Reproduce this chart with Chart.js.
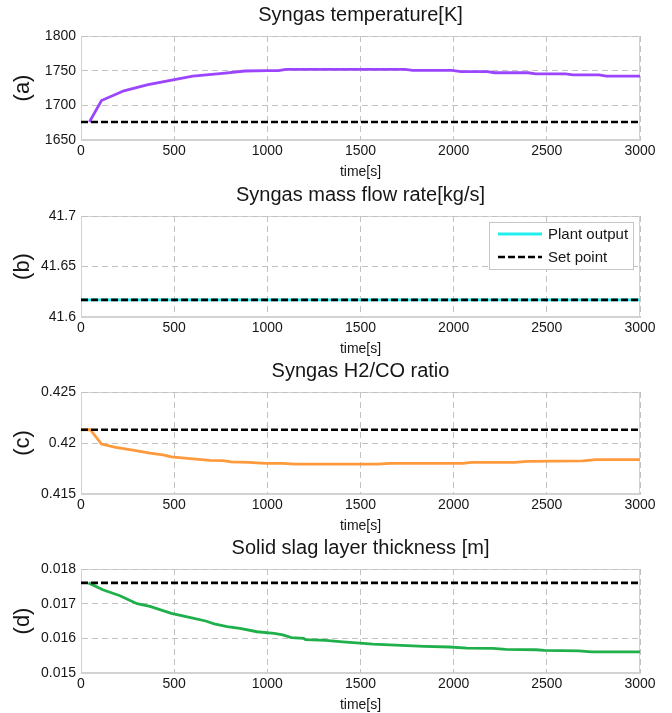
<!DOCTYPE html>
<html>
<head>
<meta charset="utf-8">
<script src="https://cdn.jsdelivr.net/npm/chart.js@4/dist/chart.umd.min.js"></script>
<style>
  html, body { margin: 0; padding: 0; background: #fff; }
  #wrap { position: relative; width: 672px; height: 713px; overflow: hidden; background: #fff; }
  .panel { position: absolute; left: 0; width: 672px; }
  canvas { display: block; }
</style>
</head>
<body>
<div id="wrap">
  <div class="panel" style="top:0px"><canvas id="panelA" width="672" height="180"></canvas></div>
  <div class="panel" style="top:180px"><canvas id="panelB" width="672" height="177"></canvas></div>
  <div class="panel" style="top:356px"><canvas id="panelC" width="672" height="178"></canvas></div>
  <div class="panel" style="top:533px"><canvas id="panelD" width="672" height="180"></canvas></div>
</div>
<script>
// ---- shared time axis ----
const timeTicks = [0, 500, 1000, 1500, 2000, 2500, 3000];
const timeTickLabels = ['0', '500', '1000', '1500', '2000', '2500', '3000'];

// ---- (a) syngas temperature [K] ----
const tempTime  = [45, 110, 230, 360, 480, 600, 760, 880, 1000, 1060, 1100, 1740, 1780, 1990, 2040, 2180, 2220, 2400, 2440, 2600, 2640, 2780, 2820, 3000];
const tempValue = [1676, 1707, 1721, 1730, 1736, 1742, 1746, 1749.5, 1750, 1750, 1752, 1752, 1750.5, 1750.5, 1748.5, 1748.5, 1747, 1747, 1745.5, 1745.5, 1744, 1744, 1742, 1742];
const tempSetPoint = 1676;
const tempTicks = [1650, 1700, 1750, 1800];
const tempTickLabels = ['1650', '1700', '1750', '1800'];

// ---- (b) syngas mass flow rate [kg/s] ----
const flowTime  = [0, 3000];
const flowValue = [41.617, 41.617];
const flowSetPoint = 41.617;
const flowTicks = [41.6, 41.65, 41.7];
const flowTickLabels = ['41.6', '41.65', '41.7'];

// ---- (c) syngas H2/CO ratio ----
const ratioTime  = [0, 50, 110, 186, 278, 370, 440, 485, 600, 692, 761, 807, 900, 990, 1083, 1150, 1590, 1660, 2050, 2096, 2326, 2395, 2694, 2763, 3000];
const ratioValue = [0.4213, 0.4213, 0.4199, 0.41958, 0.4193, 0.4190, 0.41883, 0.41863, 0.41844, 0.4183, 0.41827, 0.41814, 0.4181, 0.41801, 0.418, 0.41792, 0.41792, 0.418, 0.418, 0.4181, 0.4181, 0.4182, 0.41824, 0.41837, 0.41837];
const ratioSetPoint = 0.4213;
const ratioTicks = [0.415, 0.42, 0.425];
const ratioTickLabels = ['0.415', '0.42', '0.425'];

// ---- (d) solid slag layer thickness [m] ----
const slagTime  = [40, 117, 209, 255, 301, 370, 485, 600, 669, 715, 784, 853, 945, 1037, 1083, 1129, 1195, 1205, 1313, 1405, 1497, 1566, 1658, 1750, 1842, 1980, 2072, 2211, 2280, 2441, 2487, 2671, 2740, 3000];
const slagValue = [0.0176, 0.0174, 0.01723, 0.01711, 0.01700, 0.01692, 0.01672, 0.01658, 0.0165, 0.01642, 0.01634, 0.01629, 0.01619, 0.01614, 0.0161, 0.01602, 0.016, 0.01596, 0.01594, 0.0159, 0.01586, 0.01583, 0.01581, 0.01579, 0.01577, 0.01575, 0.01572, 0.01571, 0.01568, 0.01567, 0.01565, 0.01564, 0.01561, 0.01561];
const slagSetPoint = 0.0176;
const slagTicks = [0.015, 0.016, 0.017, 0.018];
const slagTickLabels = ['0.015', '0.016', '0.017', '0.018'];

const FONT = "'Liberation Sans', Arial, Helvetica, sans-serif";
const TEXT = '#161616';
const GRID = '#c2c2c2';
const FRAME = '#d2d2d2';

const toPoints = (xs, ys) => xs.map((x, i) => ({ x: x, y: ys[i] }));
const flat = (v) => [{ x: timeTicks[0], y: v }, { x: timeTicks[timeTicks.length - 1], y: v }];

// light box around each plotting area, painted under the grid
const axesBox = {
  id: 'axesBox',
  beforeDraw(chart) {
    const { ctx, chartArea: a } = chart;
    ctx.save();
    ctx.strokeStyle = FRAME;
    ctx.lineWidth = 1;
    ctx.setLineDash([]);
    ctx.strokeRect(Math.round(a.left) + 0.5, Math.round(a.top) + 0.5,
                   Math.round(a.right - a.left) - 1, Math.round(a.bottom - a.top) - 1);
    ctx.restore();
  }
};

// legend box drawn inside the upper-right corner of the plotting area
const insideLegend = {
  id: 'insideLegend',
  afterDatasetsDraw(chart, args, opts) {
    if (!opts || !opts.show) return;
    const { ctx, chartArea: a } = chart;
    const w = 144, h = 47;
    const x = Math.round(a.right) - 7 - w;
    const y = Math.round(a.top) + 6;
    ctx.save();
    ctx.fillStyle = '#ffffff';
    ctx.fillRect(x, y, w, h);
    ctx.strokeStyle = '#c6c6c6';
    ctx.lineWidth = 1;
    ctx.setLineDash([]);
    ctx.strokeRect(x + 0.5, y + 0.5, w, h);
    chart.data.datasets.forEach((ds, i) => {
      const ry = y + 12 + i * 23;
      ctx.strokeStyle = ds.borderColor;
      ctx.lineWidth = ds.borderWidth;
      ctx.setLineDash(ds.borderDash || []);
      ctx.beginPath();
      ctx.moveTo(x + 9, ry);
      ctx.lineTo(x + 53, ry);
      ctx.stroke();
      ctx.setLineDash([]);
      ctx.fillStyle = TEXT;
      ctx.font = '15px ' + FONT;
      ctx.textBaseline = 'middle';
      ctx.textAlign = 'left';
      ctx.fillText(ds.label, x + 59, ry + 1);
    });
    ctx.restore();
  }
};

function makePanel(id, spec) {
  const datasets = [
    {
      label: 'Plant output',
      data: spec.series,
      borderColor: spec.color,
      borderWidth: 2.8,
      pointRadius: 0,
      tension: 0,
      fill: false,
      order: 1
    },
    {
      label: 'Set point',
      data: flat(spec.setPoint),
      borderColor: '#000000',
      borderWidth: 2.6,
      borderDash: [7, 3],
      pointRadius: 0,
      tension: 0,
      fill: false,
      order: 0
    }
  ];
  return new Chart(document.getElementById(id), {
    type: 'line',
    data: { datasets: datasets },
    plugins: [axesBox, insideLegend],
    options: {
      responsive: false,
      animation: false,
      devicePixelRatio: 1,
      layout: { padding: { left: 0, right: 32, top: 0, bottom: 0 } },
      plugins: {
        legend: { display: false },
        tooltip: { enabled: false },
        insideLegend: { show: !!spec.legend },
        title: {
          display: true,
          text: spec.title,
          fullSize: false,
          color: TEXT,
          font: { family: FONT, size: 20, weight: 'normal', lineHeight: '20px' },
          padding: { top: 5, bottom: 11 }
        }
      },
      scales: {
        x: {
          type: 'linear',
          min: timeTicks[0],
          max: timeTicks[timeTicks.length - 1],
          afterBuildTicks: (s) => { s.ticks = timeTicks.map(v => ({ value: v })); },
          afterFit: (s) => { s.height = 40; },
          ticks: {
            callback: (v, i) => timeTickLabels[i],
            color: TEXT,
            font: { family: FONT, size: 14 },
            padding: 3,
            maxRotation: 0,
            autoSkip: false
          },
          grid: { color: GRID, lineWidth: 1, drawTicks: false },
          border: { display: true, color: FRAME, width: 1, dash: [6, 4] },
          title: {
            display: true,
            text: 'time[s]',
            color: TEXT,
            font: { family: FONT, size: 14, lineHeight: '16px' },
            padding: { top: 0, bottom: 0 }
          }
        },
        y: {
          type: 'linear',
          min: spec.ticks[0],
          max: spec.ticks[spec.ticks.length - 1],
          afterBuildTicks: (s) => { s.ticks = spec.ticks.map(v => ({ value: v })); },
          afterFit: (s) => { s.width = 81; },
          ticks: {
            callback: (v, i) => spec.tickLabels[i],
            color: TEXT,
            font: { family: FONT, size: 14 },
            padding: 5,
            autoSkip: false
          },
          grid: { color: GRID, lineWidth: 1, drawTicks: false },
          border: { display: true, color: FRAME, width: 1, dash: [6, 4] },
          title: {
            display: true,
            text: spec.tag,
            color: TEXT,
            font: { family: FONT, size: 22, lineHeight: '26px' },
            padding: { top: 10, bottom: 0 }
          }
        }
      }
    }
  });
}

makePanel('panelA', {
  title: 'Syngas temperature[K]', tag: '(a)', color: '#9c45ff',
  series: toPoints(tempTime, tempValue), setPoint: tempSetPoint,
  ticks: tempTicks, tickLabels: tempTickLabels
});
makePanel('panelB', {
  title: 'Syngas mass flow rate[kg/s]', tag: '(b)', color: '#22eeee',
  series: toPoints(flowTime, flowValue), setPoint: flowSetPoint,
  ticks: flowTicks, tickLabels: flowTickLabels, legend: true
});
makePanel('panelC', {
  title: 'Syngas H2/CO ratio', tag: '(c)', color: '#ff9a3c',
  series: toPoints(ratioTime, ratioValue), setPoint: ratioSetPoint,
  ticks: ratioTicks, tickLabels: ratioTickLabels
});
makePanel('panelD', {
  title: 'Solid slag layer thickness [m]', tag: '(d)', color: '#1fb04c',
  series: toPoints(slagTime, slagValue), setPoint: slagSetPoint,
  ticks: slagTicks, tickLabels: slagTickLabels
});
</script>
</body>
</html>
